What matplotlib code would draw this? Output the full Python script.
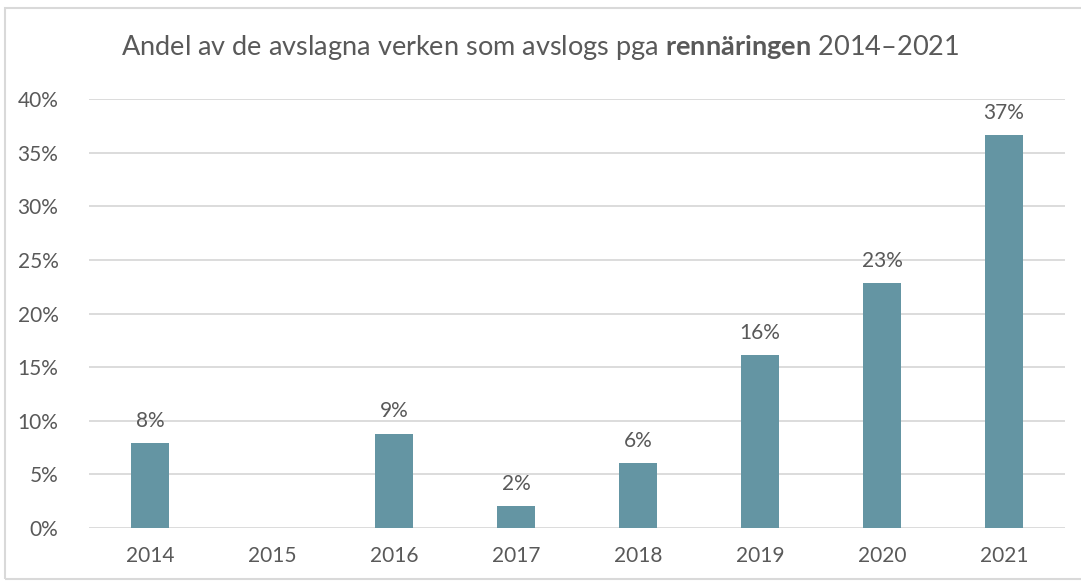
import numpy as np
import matplotlib.pyplot as plt
from matplotlib.patches import Rectangle
from matplotlib.ticker import FuncFormatter

# Data
years = ["2014", "2015", "2016", "2017", "2018", "2019", "2020", "2021"]
shares = [7.9, np.nan, 8.8, 2.05, 6.05, 16.1, 22.8, 36.6]  # percent; 2015 has no value

bar_color = "#6495A3"
text_color = "#595959"
grid_color = "#D9D9D9"

plt.rcParams['font.family'] = ['Lato', 'DejaVu Sans']
plt.rcParams['mathtext.fontset'] = 'custom'
plt.rcParams['mathtext.rm'] = 'Lato'
plt.rcParams['mathtext.bf'] = 'Lato:bold'

fig = plt.figure(figsize=(10.81, 5.82), dpi=100)
ax = fig.add_axes([89 / 1081, 1 - 528 / 582, (1065 - 89) / 1081, (528 - 99) / 582])

x = np.arange(len(years))
heights = np.nan_to_num(shares)
ax.bar(x, heights, width=0.31, color=bar_color, zorder=3)

# value labels above bars
for xi, v in zip(x, shares):
    if np.isnan(v):
        continue
    ax.annotate(f"{v:.0f}%", (xi, v), xytext=(0, 9), textcoords="offset points",
                ha="center", va="bottom", fontsize=15, color=text_color)

ax.set_xlim(-0.5, len(years) - 0.5)
ax.set_ylim(0, 40)
ax.set_yticks(np.arange(0, 41, 5))
ax.yaxis.set_major_formatter(FuncFormatter(lambda v, p: f"{v:.0f}%"))
ax.set_xticks(x)
ax.set_xticklabels(years)
ax.tick_params(axis="both", length=0, labelsize=15, labelcolor=text_color)
ax.tick_params(axis="x", pad=13)
ax.tick_params(axis="y", pad=22)
ax.grid(axis="y", color=grid_color, linewidth=1.3, zorder=0)
for s in ax.spines.values():
    s.set_visible(False)

fig.text(0.5, 1 - 47 / 582, "Andel av de avslagna verken som avslogs pga $\\bf{rennäringen}$ 2014–2021",
         ha="center", va="center", fontsize=19.5, color=text_color)

# light frame around the chart area
fig.patches.append(Rectangle((5 / 1081, 3 / 582), 1.2, 1 - 11 / 582, transform=fig.transFigure,
                             fill=False, edgecolor=grid_color, linewidth=1.5))

fig.savefig("out.png", dpi=100, facecolor="white")
